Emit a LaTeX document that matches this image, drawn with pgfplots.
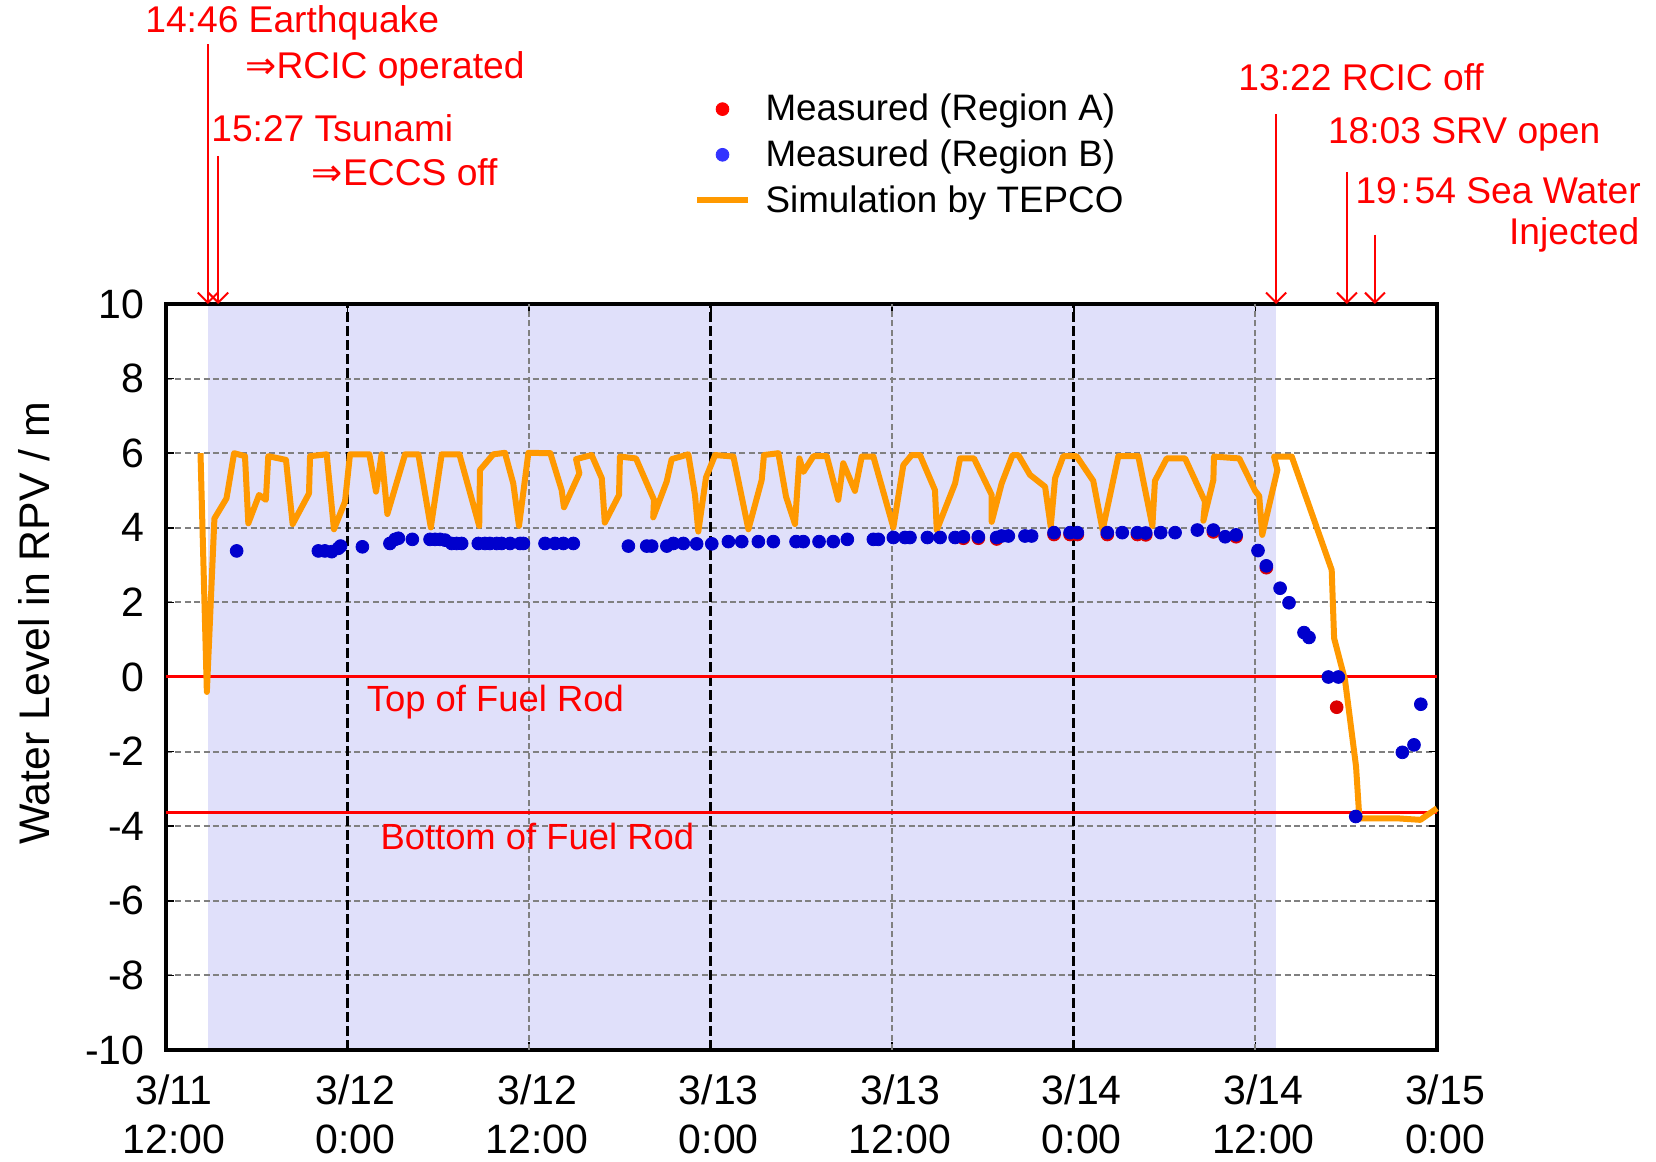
\documentclass[border=0pt]{standalone}
\usepackage{pgfplots}
\pgfplotsset{compat=1.18}
\usetikzlibrary{arrows.meta}
\usepackage{fontspec}
\setmainfont{Liberation Sans}
\newfontfamily\dejavu{DejaVu Sans}
\definecolor{shade}{RGB}{224,224,250}
\definecolor{simorange}{RGB}{255,153,0}
\definecolor{dotblue}{RGB}{0,0,205}
\definecolor{dotred}{RGB}{220,0,0}
\definecolor{annred}{RGB}{255,0,0}
\definecolor{gridgray}{RGB}{128,128,128}
\newcommand\annfont{\fontsize{18.6}{22}\selectfont}
\begin{document}
\begin{tikzpicture}
\begin{axis}[
 at={(0,0)}, anchor=south west,
 scale only axis, width=635.5pt, height=373pt,
 xmin=0, xmax=84, ymin=-10, ymax=10,
 xtick={0,12,...,84},
 xticklabels={{3/11\\12:00},{3/12\\0:00},{3/12\\12:00},{3/13\\0:00},{3/13\\12:00},{3/14\\0:00},{3/14\\12:00},{3/15\\0:00}},
 ytick={-10,-8,...,10},
 yticklabels={-10,-8,-6,-4,-2,0,2,4,6,8,10},
 ymajorgrids,
 grid style={gridgray, line width=1pt, dash pattern=on 3pt off 1.7pt},
 axis line style={line width=2.3pt},
 tick style={black, line width=0.8pt},
 major tick length=4pt,
 xticklabel style={font=\fontsize{20.5}{24.5}\selectfont, align=center, inner sep=0pt, yshift=-12pt, xshift=4pt},
 yticklabel style={font=\fontsize{20.5}{24}\selectfont, inner sep=0pt, xshift=-10.5pt},
 every axis y label/.style={at={(axis description cs:0,0.572)}, xshift=-66pt, rotate=90, anchor=center},
 ylabel={Water Level in RPV / m},
 ylabel style={font=\fontsize{21.4}{24}\selectfont},
 clip=false,
 set layers,
 legend style={at={(axis cs:34.9,14.0)}, anchor=west, draw=none, fill=none, inner sep=0pt,
   font=\fontsize{18.4}{22}\selectfont, row sep=3pt, nodes={inner sep=2.5pt},
   /tikz/every odd column/.append style={column sep=5pt}},
 legend cell align=left,
 legend image code/.code={\draw[mark repeat=2,mark phase=2,#1] plot coordinates {(0cm,0cm) (0.44cm,0cm) (0.88cm,0cm)};},
]
% RCIC operating period shading
\addplot[draw=none, fill=shade, on layer=axis background, forget plot]
  coordinates {(2.77,-10) (73.37,-10) (73.37,10) (2.77,10)} -- cycle;

% vertical grid lines
\draw[black, line width=1.6pt, dash pattern=on 5pt off 2pt] (axis cs:12,-10) -- (axis cs:12,10);
\draw[black, line width=1.6pt, dash pattern=on 5pt off 2pt] (axis cs:36,-10) -- (axis cs:36,10);
\draw[black, line width=1.6pt, dash pattern=on 5pt off 2pt] (axis cs:60,-10) -- (axis cs:60,10);
\draw[gridgray, line width=1pt, dash pattern=on 3pt off 1.7pt] (axis cs:24,-10) -- (axis cs:24,10);
\draw[gridgray, line width=1pt, dash pattern=on 3pt off 1.7pt] (axis cs:48,-10) -- (axis cs:48,10);
\draw[gridgray, line width=1pt, dash pattern=on 3pt off 1.7pt] (axis cs:72,-10) -- (axis cs:72,10);

% fuel rod lines
\addplot[annred, line width=1.5pt, forget plot] coordinates {(0,0) (84,0)};
\addplot[annred, line width=1.5pt, forget plot] coordinates {(0,-3.62) (84,-3.62)};

% legend images
\addlegendimage{only marks, mark=*, mark size=3.2pt, color=red}
\addlegendimage{only marks, mark=*, mark size=3.2pt, color={rgb,255:red,51;green,51;blue,255}}
\addlegendimage{simorange, line width=3pt}

% simulation
\addplot[simorange, line width=3pt, line join=round, forget plot] coordinates {
(2.28,6.0) (2.7,-0.4) (3.2,4.25) (4.0,4.79) (4.5,6.0) (5.22,5.92) (5.44,4.12) (6.15,4.88) (6.6,4.75) (6.76,5.92)
(7.93,5.82) (8.37,4.1) (9.45,4.92) (9.52,5.92) (10.62,5.97) (11.1,3.96) (11.83,4.7) (12.16,5.97) (13.44,5.97)
(13.88,4.97) (14.25,5.97) (14.63,4.37) (15.8,5.97) (16.68,5.97) (17.5,4.01) (18.22,5.97) (19.39,5.97) (20.7,4.05)
(20.75,5.55) (21.63,5.97) (22.4,6.01) (22.95,5.19) (23.33,4.05) (23.95,6.01) (25.4,6.0) (26.15,5.01) (26.3,4.55)
(27.32,5.46) (27.1,5.84) (28.13,5.95) (28.8,5.33) (29.0,4.14) (29.94,4.88) (30.0,5.91) (31.06,5.86) (32.25,4.75)
(32.2,4.28) (33.09,5.24) (33.42,5.84) (34.52,5.97) (34.96,4.88) (35.18,3.9) (35.69,5.35) (36.29,5.95) (37.5,5.91)
(38.49,3.96) (39.37,5.28) (39.52,5.95) (40.47,6.0) (40.98,4.83) (41.57,4.1) (41.86,5.86) (42.13,5.5) (42.79,5.92)
(43.67,5.92) (44.43,4.75) (44.76,5.73) (45.53,4.99) (45.98,5.91) (46.75,5.91) (48.07,4.01) (48.73,5.68) (49.28,5.95)
(49.83,5.95) (50.82,5.01) (50.94,3.94) (52.15,5.19) (52.48,5.86) (53.4,5.86) (54.57,4.88) (54.57,4.16) (55.23,5.19)
(55.95,5.95) (56.33,5.95) (57.1,5.42) (58.1,5.1) (58.47,4.03) (58.76,5.33) (59.3,5.92) (60.18,5.92) (61.28,5.26)
(61.9,3.94) (62.94,5.92) (64.26,5.92) (65.19,4.05) (65.36,5.26) (66.14,5.86) (67.35,5.86) (68.67,4.7) (68.56,4.19)
(69.22,5.28) (69.26,5.91) (70.93,5.86) (71.97,5.0) (72.25,4.85) (72.45,3.81) (73.45,5.55) (73.23,5.91) (74.4,5.91)
(77.04,2.87) (77.2,1.04) (77.92,-0.08) (78.65,-2.4) (78.87,-3.79) (81.4,-3.79) (82.9,-3.83) (84.0,-3.52)
};

% measured region A
\addplot[only marks, mark=*, mark size=3.2pt, dotred, forget plot] coordinates {
(52.7,3.72) (53.69,3.72) (54.9,3.7) (58.69,3.82) (59.75,3.82) (60.23,3.82) (62.21,3.82) (64.2,3.82) (64.75,3.81)
(69.22,3.89) (70.72,3.76) (72.72,2.93) (77.37,-0.81)
};

% measured region B
\addplot[only marks, mark=*, mark size=3.2pt, dotblue, forget plot] coordinates {
(4.67,3.38) (10.07,3.38) (10.5,3.38) (10.95,3.36) (11.39,3.45) (11.54,3.51) (12.98,3.49) (14.8,3.58) (15.14,3.69)
(15.36,3.72) (16.28,3.69) (17.45,3.69) (17.78,3.69) (18.11,3.69) (18.44,3.67) (18.88,3.58) (19.21,3.58) (19.54,3.58)
(20.64,3.58) (21.08,3.58) (21.41,3.58) (21.86,3.58) (22.18,3.58) (22.74,3.58) (23.4,3.58) (23.62,3.58) (25.05,3.58)
(25.71,3.58) (26.26,3.58) (26.92,3.58) (30.56,3.51) (31.77,3.51) (32.1,3.51) (33.1,3.51) (33.53,3.58) (34.19,3.58)
(35.07,3.57) (36.07,3.57) (37.17,3.63) (38.05,3.63) (39.15,3.63) (40.14,3.63) (41.64,3.63) (42.12,3.63) (43.16,3.63)
(44.1,3.63) (45.03,3.69) (46.75,3.69) (47.08,3.69) (48.07,3.74) (48.84,3.74) (49.17,3.74) (50.32,3.74) (51.16,3.74)
(52.15,3.74) (52.7,3.76) (53.69,3.76) (54.9,3.74) (55.23,3.78) (55.67,3.78) (56.77,3.78) (57.21,3.78) (58.69,3.87)
(59.75,3.87) (60.23,3.87) (62.21,3.87) (63.2,3.87) (64.2,3.87) (64.75,3.86) (65.74,3.87) (66.69,3.87) (68.16,3.94)
(69.22,3.94) (70.0,3.76) (70.72,3.81) (72.17,3.39) (72.72,2.98) (73.63,2.38) (74.22,1.99) (75.21,1.19) (75.54,1.06)
(76.82,0) (77.48,0) (78.63,-3.74) (81.71,-2.02) (82.48,-1.82) (82.93,-0.73)
};

\legend{Measured (Region A), Measured (Region B), Simulation by TEPCO}

% text on fuel rod lines
\node[anchor=west, inner sep=0pt, text=annred, font=\fontsize{18.2}{22}\selectfont] at (axis cs:13.25,-0.67) {Top of Fuel Rod};
\node[anchor=west, inner sep=0pt, text=annred, font=\fontsize{18.2}{22}\selectfont] at (axis cs:14.15,-4.27) {Bottom of Fuel Rod};

% event annotations
\node[anchor=west, inner sep=0pt, text=annred, font=\annfont] at (axis cs:-1.39,17.53) {14:46 Earthquake};
\node[anchor=west, inner sep=0pt, text=annred, font=\annfont] at (axis cs:5.22,16.31) {{\dejavu ⇒}RCIC operated};
\node[anchor=west, inner sep=0pt, text=annred, font=\annfont] at (axis cs:2.97,14.72) {15:27 Tsunami};
\node[anchor=west, inner sep=0pt, text=annred, font=\annfont] at (axis cs:9.62,13.54) {{\dejavu ⇒}ECCS off};
\node[anchor=west, inner sep=0pt, text=annred, font=\annfont] at (axis cs:70.85,16.09) {13:22 RCIC off};
\node[anchor=west, inner sep=0pt, text=annred, font=\annfont] at (axis cs:76.77,14.56) {18:03 SRV open};
\node[anchor=west, inner sep=0pt, text=annred, font=\annfont] at (axis cs:78.59,13.03) {19\hspace{0.1em}:\hspace{0.1em}54 Sea Water};
\node[anchor=east, inner sep=0pt, text=annred, font=\annfont] at (axis cs:97.4,11.84) {Injected};

\draw[annred, line width=1pt, -{Straight Barb[length=5pt,width=10pt]}] (axis cs:2.77,16.97) -- (axis cs:2.77,10);
\draw[annred, line width=1pt, -{Straight Barb[length=5pt,width=10pt]}] (axis cs:3.45,13.97) -- (axis cs:3.45,10);
\draw[annred, line width=1pt, -{Straight Barb[length=5pt,width=10pt]}] (axis cs:73.37,15.09) -- (axis cs:73.37,10);
\draw[annred, line width=1pt, -{Straight Barb[length=5pt,width=10pt]}] (axis cs:78.05,13.54) -- (axis cs:78.05,10);
\draw[annred, line width=1pt, -{Straight Barb[length=5pt,width=10pt]}] (axis cs:79.9,11.86) -- (axis cs:79.9,10);
\end{axis}
\pgfresetboundingbox
\path[use as bounding box] (-83pt,-56pt) rectangle (745pt,525pt);
\end{tikzpicture}
\end{document}
